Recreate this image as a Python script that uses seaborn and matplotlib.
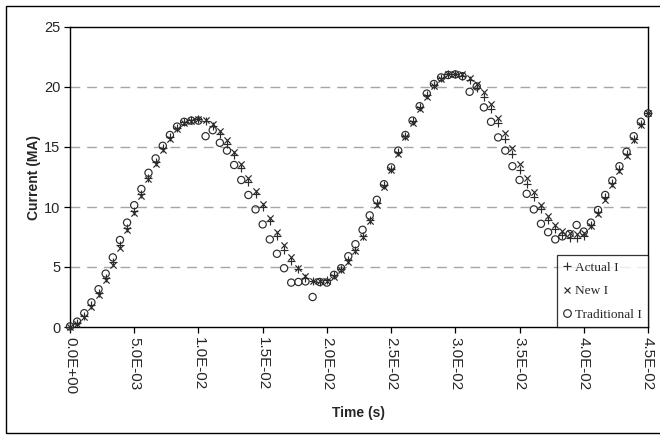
import matplotlib
matplotlib.use("Agg")
import matplotlib.pyplot as plt
import matplotlib.ticker as mticker
from matplotlib.lines import Line2D
import seaborn as sns
import pandas as pd

# ---------------- data ----------------
time_s = [0.0, 0.000556, 0.001111, 0.001667, 0.002222, 0.002778, 0.003333, 0.003889,
          0.004444, 0.005, 0.005556, 0.006111, 0.006667, 0.007222, 0.007778, 0.008333,
          0.008889, 0.009444, 0.01, 0.010556, 0.011111, 0.011667, 0.012222, 0.012778,
          0.013333, 0.013889, 0.014444, 0.015, 0.015556, 0.016111, 0.016667, 0.017222,
          0.017778, 0.018333, 0.018889, 0.019444, 0.02, 0.020556, 0.021111, 0.021667,
          0.022222, 0.022778, 0.023333, 0.023889, 0.024444, 0.025, 0.025556, 0.026111,
          0.026667, 0.027222, 0.027778, 0.028333, 0.028889, 0.029444, 0.03, 0.030556,
          0.031111, 0.031667, 0.032222, 0.032778, 0.033333, 0.033889, 0.034444, 0.035,
          0.035556, 0.036111, 0.036667, 0.037222, 0.037778, 0.038333, 0.038889, 0.039444,
          0.04, 0.040556, 0.041111, 0.041667, 0.042222, 0.042778, 0.043333, 0.043889,
          0.044444, 0.045]

actual_i = [0.0, 0.35, 0.95, 1.8, 2.85, 4.05, 5.4, 6.8, 8.25, 9.7, 11.1, 12.45, 13.75,
            14.9, 15.85, 16.6, 17.05, 17.25, 17.3, 17.15, 16.75, 16.05, 15.25, 14.3,
            13.25, 12.1, 11.05, 10.0, 8.8, 7.6, 6.45, 5.5, 4.8, 4.1, 3.8, 3.75, 3.9,
            4.3, 4.85, 5.55, 6.45, 7.6, 8.9, 10.3, 11.8, 13.2, 14.6, 15.95, 17.15, 18.3,
            19.3, 20.15, 20.75, 21.05, 21.1, 20.95, 20.55, 19.95, 19.2, 18.2, 17.0, 15.7,
            14.4, 13.1, 11.9, 10.8, 9.8, 8.9, 8.2, 7.7, 7.45, 7.4, 7.6, 8.5, 9.6, 10.8,
            12.0, 13.2, 14.4, 15.7, 16.9, 17.8]

new_i = [0.0, 0.25, 0.8, 1.65, 2.7, 3.9, 5.2, 6.6, 8.05, 9.5, 10.9, 12.3, 13.6, 14.75,
         15.7, 16.5, 17.0, 17.2, 17.3, 17.25, 16.9, 16.3, 15.55, 14.6, 13.55, 12.45,
         11.35, 10.25, 9.1, 7.95, 6.85, 5.8, 4.95, 4.25, 3.85, 3.8, 3.85, 4.2, 4.75,
         5.45, 6.35, 7.5, 8.8, 10.2, 11.65, 13.05, 14.45, 15.8, 17.0, 18.15, 19.2,
         20.05, 20.7, 21.05, 21.1, 21.05, 20.75, 20.25, 19.55, 18.6, 17.45, 16.2, 14.9,
         13.6, 12.4, 11.25, 10.2, 9.25, 8.5, 8.0, 7.8, 7.75, 7.85, 8.45, 9.45, 10.6,
         11.8, 13.0, 14.25, 15.55, 16.8, 17.8]

traditional_i = [0.05, 0.45, 1.15, 2.05, 3.15, 4.45, 5.8, 7.25, 8.7, 10.15, 11.5, 12.85,
                 14.05, 15.1, 16.0, 16.7, 17.1, 17.2, 17.2, 15.9, 16.4, 15.35, 14.7, 13.5,
                 12.25, 11.0, 9.8, 8.55, 7.3, 6.1, 4.9, 3.7, 3.75, 3.8, 2.5, 3.75, 3.7,
                 4.35, 4.9, 5.9, 6.9, 8.1, 9.3, 10.6, 11.9, 13.3, 14.7, 16.0, 17.2, 18.4,
                 19.45, 20.25, 20.8, 21.0, 21.05, 20.9, 19.6, 20.05, 18.3, 17.1, 15.8,
                 14.7, 13.4, 12.25, 11.1, 9.8, 8.6, 7.9, 7.3, 7.55, 7.75, 8.5, 7.95, 8.7,
                 9.75, 11.0, 12.2, 13.4, 14.6, 15.9, 17.1, 17.8]

series_names = ["Actual I", "New I", "Traditional I"]
x_ticks = [0.0, 0.005, 0.01, 0.015, 0.02, 0.025, 0.03, 0.035, 0.04, 0.045]
y_ticks = [0, 5, 10, 15, 20, 25]

# ---------------- plot ----------------
sns.set_theme(style="white")
plt.rcParams["font.family"] = ["Liberation Sans", "DejaVu Sans"]

W, H = 660, 436
fig = plt.figure(figsize=(W / 100, H / 100), dpi=100)
ax = fig.add_axes([70 / W, 1 - 327 / H, (648 - 70) / W, (327 - 27) / H])

ink = "#2b2b2b"
df_a = pd.DataFrame({"t": time_s, "I": actual_i})
df_n = pd.DataFrame({"t": time_s, "I": new_i})
df_t = pd.DataFrame({"t": time_s, "I": traditional_i})

sns.scatterplot(data=df_a, x="t", y="I", marker="+", s=34, color=ink,
                linewidth=0.85, ax=ax, clip_on=False, zorder=3)
sns.scatterplot(data=df_n, x="t", y="I", marker="x", s=20, color=ink,
                linewidth=0.85, ax=ax, clip_on=False, zorder=3)
sns.scatterplot(data=df_t, x="t", y="I", marker="o", s=27, facecolor="none",
                edgecolor=ink, linewidth=0.85, ax=ax, clip_on=False, zorder=3)

ax.set_xlim(0, 0.045)
ax.set_ylim(0, 25)
ax.set_xticks(x_ticks)
ax.set_yticks(y_ticks)
ax.xaxis.set_major_formatter(mticker.FuncFormatter(lambda v, p: f"{v:.1E}"))
ax.yaxis.set_major_formatter(mticker.FuncFormatter(lambda v, p: f"{int(round(v))}"))
ax.tick_params(axis="x", direction="out", length=4, width=0.9, color="black",
               labelsize=11, labelrotation=-90, pad=3, bottom=True)
ax.tick_params(axis="y", direction="out", length=4, width=0.9, color="black",
               labelsize=10.5, pad=3, left=True)
for lab in ax.get_xticklabels():
    lab.set_va("top")
    lab.set_ha("center")

for sp in ax.spines.values():
    sp.set_visible(True)
    sp.set_color("black")
    sp.set_linewidth(1.0)

for yv in y_ticks[1:-1]:
    ax.axhline(yv, color="#a6a6a6", lw=1.0, ls=(0, (7, 5)), zorder=1)

ax.set_xlabel("Time (s)", fontsize=10, fontweight="bold", labelpad=9)
ax.set_ylabel("Current (MA)", fontsize=10, fontweight="bold", labelpad=2)

handles = [
    Line2D([], [], marker="+", ls="none", color=ink, markersize=5.5, mew=0.85),
    Line2D([], [], marker="x", ls="none", color=ink, markersize=4.5, mew=0.85),
    Line2D([], [], marker="o", ls="none", markerfacecolor="none",
           markeredgecolor=ink, markersize=5.5, mew=0.85),
]
leg = ax.legend(handles, series_names, loc="lower right", bbox_to_anchor=(1.0, 0.0),
                borderaxespad=0, frameon=True, fancybox=False, handlelength=0.6,
                handletextpad=0.3, borderpad=0.45, labelspacing=0.85,
                prop={"family": ["Liberation Serif"], "size": 9.6})
leg.get_frame().set_edgecolor("black")
leg.get_frame().set_linewidth(0.9)
leg.set_zorder(5)

# outer frame
fig.add_artist(plt.Rectangle((6 / W, 3 / H), (W + 10) / W, (H - 9) / H,
                             transform=fig.transFigure, fill=False,
                             edgecolor="black", lw=1.0))

fig.savefig("out.png", dpi=100)
